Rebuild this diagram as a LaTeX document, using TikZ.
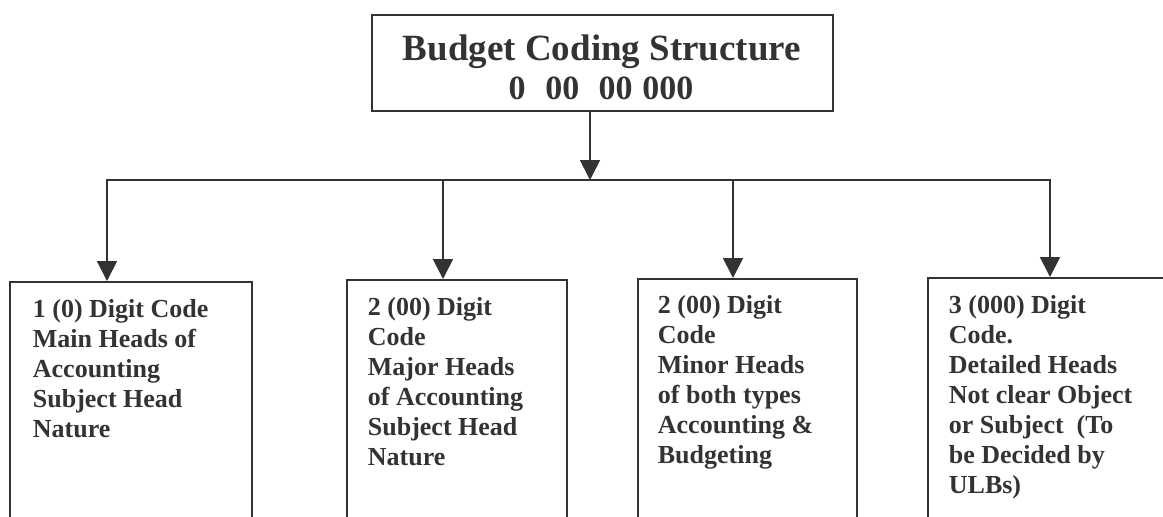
\documentclass[tikz,border=0pt]{standalone}
\usepackage{fontspec}
\setmainfont{Liberation Serif}
\usetikzlibrary{arrows.meta}
\definecolor{ink}{gray}{0.2}
\begin{document}
\begin{tikzpicture}[x=1pt,y=-1pt,color=ink,line width=1.8pt,
  box/.style={draw, rectangle, inner sep=0pt, anchor=north west},
  lbl/.style={anchor=north west, inner sep=0pt, align=left, font=\bfseries\fontsize{26}{30}\selectfont},
  ttl/.style={anchor=base, inner sep=0pt},
  arr/.style={-{Triangle[length=20pt,width=20pt]}},
  bar/.style={line cap=rect}]
\useasboundingbox (0,0) rectangle (1163,517);
\begin{scope}
\clip (0,0) rectangle (1163,517);
\node[box, minimum width=461, minimum height=96] (top) at (371,14) {};
\node[ttl, font=\bfseries\fontsize{37}{39}\selectfont] (title) at (602,60) {Budget Coding Structure};
\node[ttl, font=\bfseries\fontsize{34}{39}\selectfont] (code) at (601,99) {0\hspace{20pt}00\hspace{19pt}00\hspace{10pt}000};
\coordinate (j0) at (590,180);
\coordinate (j1) at (107,180);
\coordinate (j2) at (443,180);
\coordinate (j3) at (733,180);
\coordinate (j4) at (1050,180);
\node[box, minimum width=242, minimum height=260] (b1) at (9,281) {};
\node[box, minimum width=220, minimum height=262] (b2) at (346,279) {};
\node[box, minimum width=219, minimum height=263] (b3) at (637,278) {};
\node[box, minimum width=300, minimum height=264] (b4) at (927,277) {};
\node[lbl] (t1) at (32,296) {\strut 1 (0) Digit Code\\Main Heads of\\Accounting\\Subject Head\\Nature};
\node[lbl] (t2) at (367,294) {\strut 2 (00) Digit\\Code\\Major Heads\\of Accounting\\Subject Head\\Nature};
\node[lbl] (t3) at (657,292) {\strut 2 (00) Digit\\Code\\Minor Heads\\of both types\\Accounting \&\\Budgeting};
\node[lbl] (t4) at (948,292) {\strut 3 (000) Digit\\Code.\\Detailed Heads\\Not clear Object\\or Subject\ \ (To\\be Decided by\\ULBs)};
\draw[arr] (top.south -| j0) -- (j0);
\draw[bar] (j1) -- (j4);
\draw[arr] (j1) -- (j1 |- b1.north);
\draw[arr] (j2) -- (j2 |- b2.north);
\draw[arr] (j3) -- (j3 |- b3.north);
\draw[arr] (j4) -- (j4 |- b4.north);
\end{scope}
\end{tikzpicture}
\end{document}
